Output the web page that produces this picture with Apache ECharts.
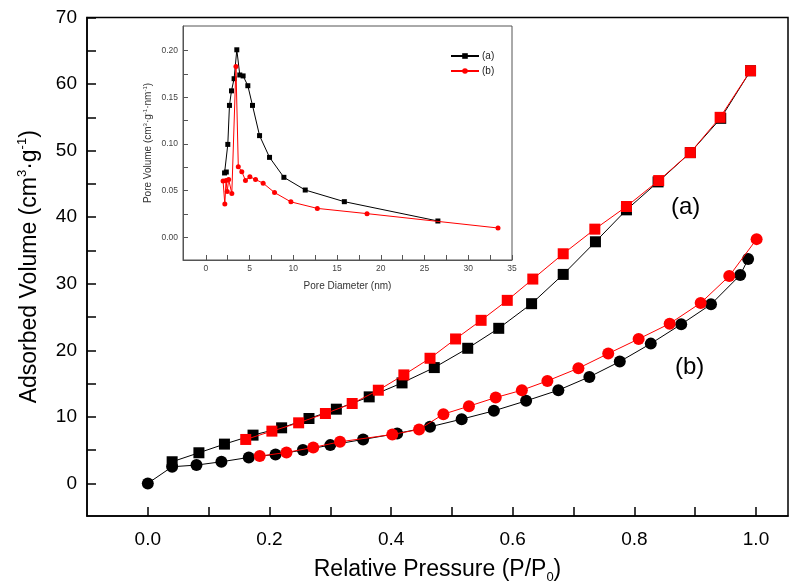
<!DOCTYPE html>
<html>
<head>
<meta charset="utf-8">
<script src="https://cdn.jsdelivr.net/npm/echarts@6/dist/echarts.min.js"></script>
<style>html,body{margin:0;padding:0;background:#fff}#c{width:799px;height:583px}</style>
</head>
<body>
<div id="c"></div>
<script>
// ---- Main isotherm data ----
const aAdsX = [0.04,0.084,0.126,0.173,0.22,0.265,0.31,0.364,0.418,0.471,0.526,0.577,0.631,0.683,0.736,0.787,0.839,0.892,0.942,0.991];
const aAdsY = [3.25,4.6,5.9,7.25,8.35,9.75,11.15,13.0,15.1,17.4,20.3,23.3,27.0,31.4,36.3,41.1,45.3,49.7,54.85,62.0];
const aDesX = [0.991,0.941,0.892,0.840,0.787,0.735,0.683,0.633,0.591,0.548,0.506,0.464,0.421,0.379,0.336,0.292,0.248,0.204,0.161];
const aDesY = [62.0,55.0,49.7,45.5,41.6,38.2,34.5,30.7,27.5,24.5,21.7,18.8,16.3,14.0,12.0,10.5,9.1,7.85,6.6];
const bAdsX = [0,0.04,0.08,0.121,0.166,0.21,0.255,0.30,0.354,0.41,0.464,0.516,0.569,0.622,0.675,0.726,0.776,0.827,0.877,0.926,0.974,0.987];
const bAdsY = [0,2.5,2.75,3.25,3.9,4.35,5.0,5.75,6.6,7.5,8.5,9.65,10.9,12.4,14.0,16.0,18.3,21.0,23.9,26.9,31.3,33.7];
const bDesX = [1.001,0.956,0.909,0.858,0.807,0.757,0.708,0.657,0.615,0.572,0.528,0.486,0.446,0.402,0.316,0.272,0.228,0.184];
const bDesY = [36.7,31.15,27.1,24.0,21.7,19.5,17.3,15.4,14.0,12.9,11.6,10.4,8.1,7.35,6.25,5.4,4.65,4.1];

// ---- Inset pore size distribution data ----
const insetAX = [2.15,2.35,2.52,2.71,2.94,3.24,3.55,3.89,4.27,4.81,5.34,6.15,7.29,8.93,11.37,15.84,26.53];
const insetAY = [0.069,0.070,0.0996,0.1414,0.157,0.170,0.201,0.174,0.173,0.1625,0.1414,0.109,0.0857,0.0643,0.0507,0.0382,0.0175];
const insetBX = [1.98,2.18,2.32,2.45,2.62,2.98,3.45,3.72,4.12,4.54,5.04,5.69,6.56,7.86,9.73,12.75,18.43,33.4];
const insetBY = [0.0604,0.0357,0.061,0.049,0.062,0.047,0.183,0.0757,0.0704,0.061,0.065,0.062,0.058,0.048,0.038,0.031,0.0254,0.010];

// ---- Tick values ----
const xMajor = [0,0.2,0.4,0.6,0.8,1.0];
const xMinor = [0.1,0.3,0.5,0.7,0.9];
const yMajor = [0,10,20,30,40,50,60,70];
const yMinor = [5,15,25,35,45,55,65];
const ixMajor = [0,5,10,15,20,25,30,35];
const ixMinor = [2.5,7.5,12.5,17.5,22.5,27.5,32.5];
const iyMajor = [0,0.05,0.10,0.15,0.20];
const iyMinor = [0.025,0.075,0.125,0.175];

const FF = '"Liberation Sans", Arial, Helvetica, sans-serif';
const zip = (xs, ys) => xs.map((x, i) => [x, ys[i]]);

function majorAxis(o) {
  return {
    type: 'value', gridIndex: o.grid, min: o.min, max: o.max, position: o.pos,
    axisLine: {show: true, onZero: false, lineStyle: {color: o.color, width: o.lw}},
    axisTick: {show: true, inside: true, length: o.tl, customValues: o.major, lineStyle: {color: o.color, width: o.lw}},
    axisLabel: {show: true, customValues: o.major, formatter: o.fmt, fontSize: o.fs, color: o.lc, margin: o.margin, fontFamily: FF},
    splitLine: {show: false},
    name: o.name, nameLocation: 'middle', nameGap: o.nameGap, nameRotate: o.nameRotate,
    nameTextStyle: {fontFamily: FF, color: o.lc, rich: o.rich}
  };
}
function minorAxis(o) {
  return {
    type: 'value', gridIndex: o.grid, min: o.min, max: o.max, position: o.pos,
    axisLine: {show: false, onZero: false},
    axisTick: {show: true, inside: true, length: o.tl, customValues: o.minor, lineStyle: {color: o.color, width: o.lw}},
    axisLabel: {show: false}, splitLine: {show: false}
  };
}

const mainRich = {
  t: {fontSize: 23, fontFamily: FF, color: '#000', lineHeight: 28},
  s: {fontSize: 13, fontFamily: FF, color: '#000', lineHeight: 28, verticalAlign: 'top'},
  b: {fontSize: 13, fontFamily: FF, color: '#000', lineHeight: 28, verticalAlign: 'bottom'}
};
const insetRich = {
  t: {fontSize: 10, fontFamily: FF, color: '#333', lineHeight: 13},
  s: {fontSize: 6, fontFamily: FF, color: '#333', lineHeight: 13, verticalAlign: 'top'}
};

const mx = {grid: 0, min: -0.1, max: 1.0526, pos: 'bottom', color: '#000', lw: 1.5, lc: '#000', fs: 19, margin: 14,
  major: xMajor, minor: xMinor, fmt: v => Number(v).toFixed(1), tl: 9,
  name: '{t|Relative Pressure (P/P}{b|0}{t|)}', nameGap: 40, rich: mainRich};
const my = {grid: 0, min: -4.9, max: 70, pos: 'left', color: '#000', lw: 1.5, lc: '#000', fs: 19, margin: 10,
  major: yMajor, minor: yMinor, fmt: v => String(Math.round(v)), tl: 9,
  name: '{t|Adsorbed Volume (cm}{s|3}{t|·g}{s|-1}{t|)}', nameGap: 43, nameRotate: 90, rich: mainRich};
const ix = {grid: 1, min: -2.6, max: 35, pos: 'bottom', color: '#555', lw: 1, lc: '#444', fs: 8.5, margin: 4,
  major: ixMajor, minor: ixMinor, fmt: v => String(Math.round(v)), tl: 5,
  name: '{t|Pore Diameter (nm)}', nameGap: 20, rich: insetRich};
const iy = {grid: 1, min: -0.0243, max: 0.2265, pos: 'left', color: '#555', lw: 1, lc: '#444', fs: 8.5, margin: 5,
  major: iyMajor, minor: iyMinor, fmt: v => Number(v).toFixed(2), tl: 5,
  name: '{t|Pore Volume (cm}{s|3}{t|·g}{s|-1}{t|·nm}{s|-1}{t|)}', nameGap: 28, nameRotate: 90, rich: insetRich};

const chart = echarts.init(document.getElementById('c'), null, {renderer: 'canvas'});
chart.setOption({
  animation: false,
  backgroundColor: '#fff',
  grid: [
    {left: 87, right: 11, top: 17.5, bottom: 67, show: true, borderColor: '#000', borderWidth: 1.5,
      backgroundColor: 'transparent', outerBoundsMode: 'none', containLabel: false},
    {left: 183, right: 287, top: 26, bottom: 323, show: true, borderColor: '#555', borderWidth: 1,
      backgroundColor: '#fff', outerBoundsMode: 'none', containLabel: false}
  ],
  xAxis: [majorAxis(mx), minorAxis(mx), majorAxis(ix), minorAxis(ix)],
  yAxis: [majorAxis(my), minorAxis(my), majorAxis(iy), minorAxis(iy)],
  legend: {
    orient: 'vertical', left: 445, top: 46, itemWidth: 28, itemHeight: 7, itemGap: 5,
    data: ['(a)', '(b)'],
    textStyle: {fontSize: 10, fontFamily: FF, color: '#222', padding: [0, 0, 0, -2]}
  },
  graphic: [
    {type: 'text', left: 671, top: 195, style: {text: '(a)', font: '24px "Liberation Sans", Arial', fill: '#000'}},
    {type: 'text', left: 675, top: 355, style: {text: '(b)', font: '24px "Liberation Sans", Arial', fill: '#000'}}
  ],
  series: [
    {type: 'line', xAxisIndex: 0, yAxisIndex: 0, data: zip(bAdsX, bAdsY), symbol: 'circle', symbolSize: 12,
      itemStyle: {color: '#000'}, lineStyle: {color: '#000', width: 1}, z: 3},
    {type: 'line', xAxisIndex: 0, yAxisIndex: 0, data: zip(bDesX, bDesY), symbol: 'circle', symbolSize: 12,
      itemStyle: {color: '#ff0000'}, lineStyle: {color: '#ff0000', width: 1}, z: 4},
    {type: 'line', xAxisIndex: 0, yAxisIndex: 0, data: zip(aAdsX, aAdsY), symbol: 'rect', symbolSize: 11,
      itemStyle: {color: '#000'}, lineStyle: {color: '#000', width: 1}, z: 3},
    {type: 'line', xAxisIndex: 0, yAxisIndex: 0, data: zip(aDesX, aDesY), symbol: 'rect', symbolSize: 11,
      itemStyle: {color: '#ff0000'}, lineStyle: {color: '#ff0000', width: 1}, z: 4},
    {name: '(a)', type: 'line', xAxisIndex: 2, yAxisIndex: 2, data: zip(insetAX, insetAY), symbol: 'rect', symbolSize: 5,
      itemStyle: {color: '#000'}, lineStyle: {color: '#000', width: 1}, z: 6},
    {name: '(b)', type: 'line', xAxisIndex: 2, yAxisIndex: 2, data: zip(insetBX, insetBY), symbol: 'circle', symbolSize: 5,
      itemStyle: {color: '#ff0000'}, lineStyle: {color: '#ff0000', width: 1}, z: 7}
  ]
});
</script>
</body>
</html>
